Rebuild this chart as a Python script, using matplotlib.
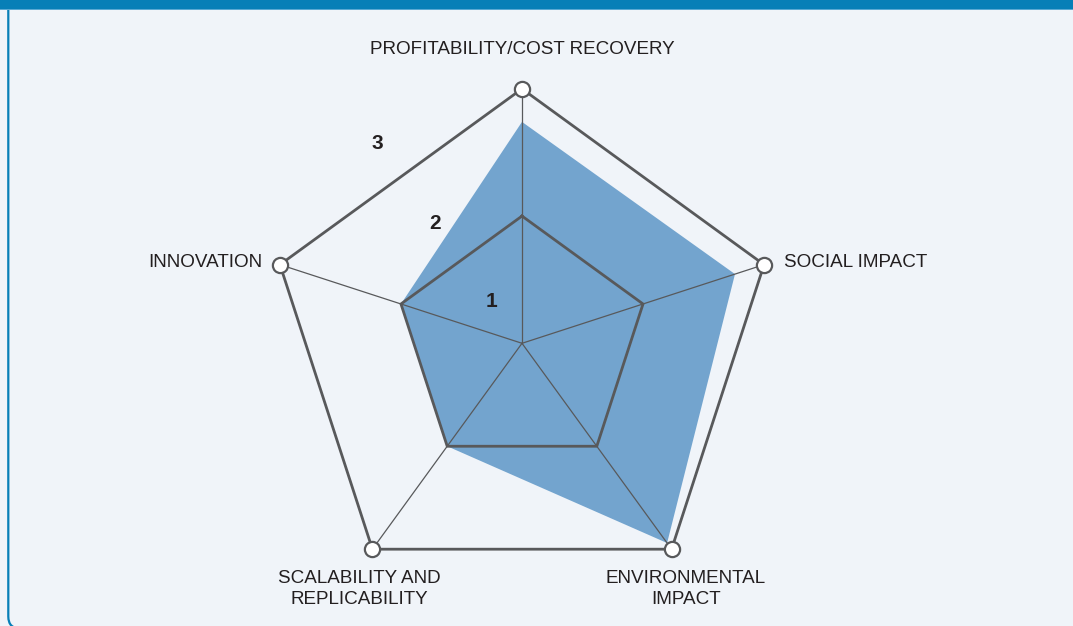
import numpy as np
import matplotlib
matplotlib.use("Agg")
import matplotlib.pyplot as plt
from matplotlib.patches import FancyBboxPatch, Rectangle

# ---- data ----
categories = ["PROFITABILITY/COST RECOVERY", "SOCIAL IMPACT", "ENVIRONMENTAL\nIMPACT",
              "SCALABILITY AND\nREPLICABILITY", "INNOVATION"]
values = [2.74, 2.76, 2.94, 2.0, 2.0]
grid_levels = [2, 3]
zone_labels = ["1", "2", "3"]
zone_radii = [1.41, 2.16, 2.94]

BG = "#f0f4f9"
FILL = "#73a4ce"
LINE = "#58595b"
BLUE = "#077fb7"

W, H = 1073, 626
fig = plt.figure(figsize=(W / 100, H / 100), dpi=100, facecolor=BG)

# ---- frame (card), y measured upward in pixels ----
frame = fig.add_axes([0, 0, 1, 1])
frame.set_xlim(0, W)
frame.set_ylim(0, H)
frame.axis("off")
frame.patch.set_alpha(0)
frame.add_patch(FancyBboxPatch((8.3, -2.5), W + 40, H + 30,
                               boxstyle="round,pad=0,rounding_size=12",
                               facecolor="none", edgecolor=BLUE, linewidth=1.6))
frame.add_patch(Rectangle((0, H - 9), W, 9, facecolor=BLUE, edgecolor="none"))
frame.add_patch(Rectangle((0, H - 10.2), W, 1.2, facecolor="#5aa9d3", edgecolor="none"))

# ---- radar ----
cx, cy, R = 522, 343.3, 254.5
ax = fig.add_axes([(cx - R) / W, (H - cy - R) / H, 2 * R / W, 2 * R / H],
                  projection="polar")
ax.set_theta_offset(np.pi / 2)
ax.set_theta_direction(-1)
ax.set_ylim(1, 3)
ax.set_xticks([])
ax.set_yticks([])
ax.grid(False)
ax.spines["polar"].set_visible(False)
ax.patch.set_alpha(0)

n = len(categories)
theta = np.linspace(0, 2 * np.pi, n, endpoint=False)
tc = np.append(theta, theta[0])

# data area
vc = np.append(values, values[0])
ax.fill(tc, vc, color=FILL, zorder=1, linewidth=0)

# spokes
for t in theta:
    ax.plot([t, t], [1, 3], color=LINE, lw=0.9, zorder=2)

# pentagon grids
ax.plot(tc, [grid_levels[0]] * (n + 1), color=LINE, lw=2.0, zorder=3, solid_joinstyle="miter")
ax.plot(tc, [grid_levels[1]] * (n + 1), color=LINE, lw=2.0, zorder=3, solid_joinstyle="miter")

# vertex markers
ax.scatter(theta, [3] * n, s=120, facecolor="white", edgecolor=LINE, linewidth=1.6,
           zorder=5, clip_on=False)

# category labels
fs = 13.6
lab_kw = dict(fontsize=fs, family="Liberation Sans", color="#231f20",
              textcoords="offset pixels", annotation_clip=False)
offsets = [((0, 39), "center", "center"),
           ((20, 2), "left", "center"),
           ((14, -40), "center", "center"),
           ((-13, -40), "center", "center"),
           ((-18, 2), "right", "center")]
for t, lab, (off, ha, va) in zip(theta, categories, offsets):
    ax.annotate(lab, xy=(t, 3), xytext=off, ha=ha, va=va, linespacing=1.3, **lab_kw)

# zone number labels
zt = np.deg2rad(-36)
for lab, r in zip(zone_labels, zone_radii):
    ax.text(zt, r, lab, fontsize=15, fontweight="bold", family="Liberation Sans",
            color="#231f20", ha="center", va="center", zorder=6)

fig.savefig("out.png", dpi=100, facecolor=BG)
